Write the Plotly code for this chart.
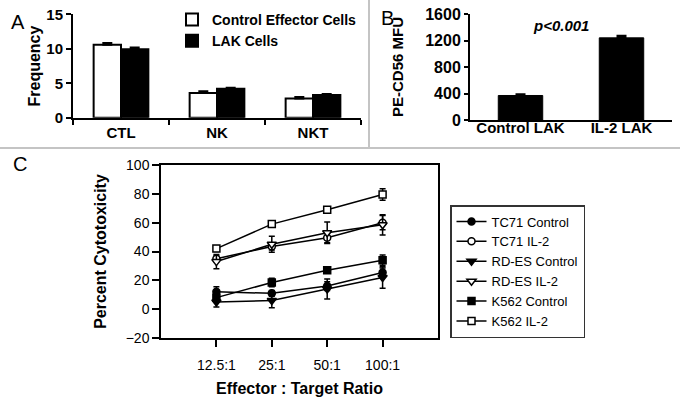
import plotly.graph_objects as go

# ---------------- Data ----------------
# Panel A
cell_types = ["CTL", "NK", "NKT"]
control_effector = [10.6, 3.6, 2.8]
control_effector_err = [0.25, 0.25, 0.2]
lak_cells = [9.95, 4.2, 3.3]
lak_cells_err = [0.25, 0.15, 0.15]

# Panel B
lak_groups = ["Control LAK", "IL-2 LAK"]
cd56_mfu = [370, 1240]
cd56_mfu_err = [20, 30]

# Panel C
ratios = ["12.5:1", "25:1", "50:1", "100:1"]
tc71_control = [12, 11, 16, 25.5]
tc71_control_err = [3.5, 2, 3, 3]
tc71_il2 = [35, 43.5, 49.5, 60]
tc71_il2_err = [2, 2.5, 3.5, 5]
rdes_control = [5, 6, 14, 22]
rdes_control_err = [3.5, 5, 7, 7.5]
rdes_il2 = [33, 45, 53, 58.5]
rdes_il2_err = [5, 5.5, 7.5, 7]
k562_control = [8, 18.5, 27, 34]
k562_control_err = [2, 3, 1.5, 3.5]
k562_il2 = [42, 59, 69, 79.5]
k562_il2_err = [2, 1.5, 1, 4]

FONT = "Liberation Sans, Arial, sans-serif"
W, H = 680, 410

def px_x(p):
    return p / W

def px_y(p):
    return 1 - p / H

fig = go.Figure()

# ---------------- Panel A ----------------
fig.add_trace(go.Bar(
    x=cell_types, y=control_effector, name="Control Effector Cells",
    marker=dict(color="white", line=dict(color="black", width=2)),
    error_y=dict(type="data", array=control_effector_err, arrayminus=[0]*3,
                 color="black", thickness=2, width=5),
    xaxis="x", yaxis="y", legend="legend",
))
fig.add_trace(go.Bar(
    x=cell_types, y=lak_cells, name="LAK Cells",
    marker=dict(color="black", line=dict(color="black", width=2)),
    error_y=dict(type="data", array=lak_cells_err, arrayminus=[0]*3,
                 color="black", thickness=2, width=5),
    xaxis="x", yaxis="y", legend="legend",
))

# ---------------- Panel B ----------------
fig.add_trace(go.Bar(
    x=lak_groups, y=cd56_mfu, width=0.44, showlegend=False,
    marker=dict(color="black", line=dict(color="black", width=1)),
    error_y=dict(type="data", array=cd56_mfu_err, arrayminus=[0, 0],
                 color="black", thickness=2, width=5),
    xaxis="x2", yaxis="y2",
))

# ---------------- Panel C ----------------
series_c = [
    ("TC71 Control", tc71_control, tc71_control_err, "circle", "black", 7),
    ("TC71 IL-2", tc71_il2, tc71_il2_err, "circle", "white", 7),
    ("RD-ES Control", rdes_control, rdes_control_err, "triangle-down", "black", 8),
    ("RD-ES IL-2", rdes_il2, rdes_il2_err, "triangle-down", "white", 8),
    ("K562 Control", k562_control, k562_control_err, "square", "black", 7),
    ("K562 IL-2", k562_il2, k562_il2_err, "square", "white", 7),
]
xpos = list(range(len(ratios)))
for name, vals, errs, sym, fill, size in series_c:
    fig.add_trace(go.Scatter(
        x=xpos, y=vals, name=name, mode="lines+markers",
        line=dict(color="black", width=1.5),
        marker=dict(symbol=sym, size=size, color=fill,
                    line=dict(color="black", width=1.5)),
        error_y=dict(type="data", array=errs, color="black",
                     thickness=1.5, width=3),
        xaxis="x3", yaxis="y3", legend="legend2",
    ))

bold15 = dict(family=FONT, size=15, color="black", weight="bold")

fig.update_layout(
    width=W, height=H,
    margin=dict(l=0, r=0, t=0, b=0),
    paper_bgcolor="white", plot_bgcolor="white",
    font=dict(family=FONT, color="black"),
    barmode="group", bargap=0.43, bargroupgap=0,
    # Panel A axes
    xaxis=dict(domain=[px_x(73), px_x(361)], anchor="y", type="category",
               showline=True, linecolor="black", linewidth=2,
               ticks="outside", tickson="boundaries", ticklen=5, tickwidth=2,
               tickcolor="black", tickfont=bold15, showgrid=False,
               automargin=False),
    yaxis=dict(domain=[px_y(117.7), px_y(14.4)], anchor="x",
               range=[0, 15], tickvals=[0, 5, 10, 15],
               showline=True, linecolor="black", linewidth=2,
               ticks="outside", ticklen=5, tickwidth=2, tickcolor="black",
               tickfont=bold15, showgrid=False, zeroline=False,
               title=dict(text="Frequency", font=dict(family=FONT, size=16,
                          color="black", weight="bold"), standoff=2),
               automargin=False),
    # Panel B axes
    xaxis2=dict(domain=[px_x(470), px_x(672)], anchor="y2", type="category",
                showline=True, linecolor="black", linewidth=2, ticks="",
                ticklabelstandoff=-7,
                tickfont=bold15, showgrid=False, automargin=False),
    yaxis2=dict(domain=[px_y(120), px_y(14)], anchor="x2",
                range=[0, 1600], tickvals=[0, 400, 800, 1200, 1600],
                showline=True, linecolor="black", linewidth=2,
                ticks="outside", ticklen=4, tickwidth=2, tickcolor="black",
                tickfont=dict(family=FONT, size=16, color="black", weight="bold"),
                showgrid=False, zeroline=False,
                title=dict(text="PE-CD56 MFU", font=dict(family=FONT, size=15,
                           color="black", weight="bold"), standoff=18),
                automargin=False),
    # Panel C axes
    xaxis3=dict(domain=[px_x(161), px_x(438)], anchor="y3",
                range=[-1, 4], tickvals=xpos, ticktext=ratios,
                showline=True, mirror=True, linecolor="black", linewidth=1.5,
                ticks="outside", ticklen=7, tickwidth=1.5, tickcolor="black",
                ticklabelstandoff=6,
                tickfont=dict(family=FONT, size=14, color="black"),
                showgrid=False, zeroline=False,
                title=dict(text="Effector : Target Ratio",
                           font=dict(family=FONT, size=16, color="black",
                                     weight="bold"), standoff=11),
                automargin=False),
    yaxis3=dict(domain=[px_y(338), px_y(165)], anchor="x3",
                range=[-20, 100], tickvals=[-20, 0, 20, 40, 60, 80, 100],
                showline=True, mirror=True, linecolor="black", linewidth=1.5,
                ticks="outside", ticklen=7, tickwidth=1.5, tickcolor="black",
                tickfont=dict(family=FONT, size=14, color="black"),
                showgrid=False, zeroline=False,
                title=dict(text="Percent Cytotoxicity",
                           font=dict(family=FONT, size=16, color="black",
                                     weight="bold"), standoff=15),
                automargin=False),
    legend=dict(x=px_x(172), y=px_y(4), xanchor="left", yanchor="top",
                bgcolor="rgba(0,0,0,0)", borderwidth=0,
                font=dict(family=FONT, size=14, color="black", weight="bold"),
                tracegroupgap=0, traceorder="normal"),
    legend2=dict(x=px_x(450), y=px_y(205), xanchor="left", yanchor="top",
                 bgcolor="white", bordercolor="#333333", borderwidth=1.5,
                 font=dict(family=FONT, size=13, color="black"),
                 tracegroupgap=0, traceorder="normal"),
)

# Panel letters
for txt, x, y in [("A", 17.5, 22), ("B", 387, 18), ("C", 20, 164)]:
    fig.add_annotation(text=txt, x=px_x(x), y=px_y(y), xref="paper", yref="paper",
                       showarrow=False, xanchor="center", yanchor="middle",
                       font=dict(family=FONT, size=20, color="black"))

# p-value annotation
fig.add_annotation(text="p<0.001", x=px_x(561), y=px_y(25), xref="paper",
                   yref="paper", showarrow=False, xanchor="center",
                   yanchor="middle",
                   font=dict(family=FONT, size=15, color="black",
                             weight="bold", style="italic"))

# Panel dividers
fig.add_shape(type="line", xref="paper", yref="paper",
              x0=px_x(369), x1=px_x(369), y0=1, y1=px_y(148),
              line=dict(color="#c4c4c4", width=2))
fig.add_shape(type="line", xref="paper", yref="paper",
              x0=0, x1=1, y0=px_y(148), y1=px_y(148),
              line=dict(color="#c4c4c4", width=2))

fig.write_html("out.html",
               config={"displayModeBar": False},
               post_script="document.body.style.margin='0';"
                           "document.body.style.overflow='hidden';")
